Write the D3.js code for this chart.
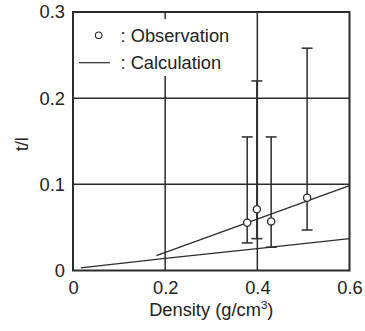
<!DOCTYPE html>
<html>
<head>
<meta charset="utf-8">
<script src="https://cdn.jsdelivr.net/npm/d3@7"></script>
<style>
  body { margin: 0; background: #fff; }
  text { font-family: "Liberation Sans", Arial, sans-serif; fill: #222; }
</style>
</head>
<body>
<div id="chart"></div>
<script>
// observed points: density, t/l, error bar low / high
var obsX = [0.378, 0.399, 0.43, 0.508];
var obsY = [0.0555, 0.071, 0.057, 0.0845];
var errLow = [0.032, 0.037, 0.027, 0.047];
var errHigh = [0.155, 0.22, 0.155, 0.258];

// calculation lines
var calcUpperX = [0.181, 0.6];
var calcUpperY = [0.0172, 0.0985];
var calcLowerX = [0.017, 0.2, 0.4, 0.6];
var calcLowerY = [0.003, 0.014, 0.0255, 0.037];

var xTicks = [0, 0.2, 0.4, 0.6];
var xTickLabels = ['0', '0.2', '0.4', '0.6'];
var yTicks = [0, 0.1, 0.2, 0.3];
var yTickLabels = ['0', '0.1', '0.2', '0.3'];

var margin = { top: 12, right: 15.5, bottom: 60.5, left: 73 },
    width = 365 - margin.left - margin.right,
    height = 331 - margin.top - margin.bottom;

var fs = "18.3px";

var svg = d3.select("#chart").append("svg")
    .attr("width", 365)
    .attr("height", 331)
    .append("g")
    .attr("transform", "translate(" + margin.left + "," + margin.top + ")");

var x = d3.scaleLinear().domain([0, 0.6]).range([0, width]);
var y = d3.scaleLinear().domain([0, 0.3]).range([height, 0]);

var ink = "#2b2b2b";

// grid
svg.selectAll(".vgrid")
    .data(xTicks.slice(1, -1))
    .enter().append("line")
    .attr("x1", d => x(d)).attr("x2", d => x(d))
    .attr("y1", 0).attr("y2", height)
    .attr("stroke", ink).attr("stroke-width", 1.5);

svg.selectAll(".hgrid")
    .data(yTicks.slice(1, -1))
    .enter().append("line")
    .attr("x1", 0).attr("x2", width)
    .attr("y1", d => y(d)).attr("y2", d => y(d))
    .attr("stroke", ink).attr("stroke-width", 1.5);

// legend background hides the grid
svg.append("rect")
    .attr("x", 1).attr("y", 7)
    .attr("width", 160).attr("height", 57)
    .attr("fill", "#fff");

// axes labels
var xAxis = d3.axisBottom(x).tickValues(xTicks)
    .tickFormat((d, i) => xTickLabels[i]).tickSize(0).tickPadding(11);
var gx = svg.append("g").attr("transform", "translate(0," + height + ")").call(xAxis);
gx.select(".domain").remove();
gx.selectAll("text").style("font-size", fs).attr("fill", "#222");

var yAxis = d3.axisLeft(y).tickValues(yTicks)
    .tickFormat((d, i) => yTickLabels[i]).tickSize(0).tickPadding(8);
var gy = svg.append("g").call(yAxis);
gy.select(".domain").remove();
gy.selectAll("text").style("font-size", fs).attr("fill", "#222");

// frame
svg.append("rect")
    .attr("width", width).attr("height", height)
    .attr("fill", "none").attr("stroke", ink).attr("stroke-width", 2);

// calc lines
var line = d3.line().x(d => x(d[0])).y(d => y(d[1]));
svg.append("path")
    .attr("d", line(d3.zip(calcUpperX, calcUpperY)))
    .attr("fill", "none").attr("stroke", ink).attr("stroke-width", 1.3);
svg.append("path")
    .attr("d", line(d3.zip(calcLowerX, calcLowerY)))
    .attr("fill", "none").attr("stroke", ink).attr("stroke-width", 1.3);

// error bars
var obs = obsX.map((d, i) => ({ x: d, y: obsY[i], lo: errLow[i], hi: errHigh[i] }));
var capW = 5.5;
var eb = svg.selectAll(".err").data(obs).enter().append("g");
eb.append("line")
    .attr("x1", d => x(d.x)).attr("x2", d => x(d.x))
    .attr("y1", d => y(d.lo)).attr("y2", d => y(d.hi))
    .attr("stroke", ink).attr("stroke-width", 1.5);
eb.append("line")
    .attr("x1", d => x(d.x) - capW).attr("x2", d => x(d.x) + capW)
    .attr("y1", d => y(d.hi)).attr("y2", d => y(d.hi))
    .attr("stroke", ink).attr("stroke-width", 1.5);
eb.append("line")
    .attr("x1", d => x(d.x) - capW).attr("x2", d => x(d.x) + capW)
    .attr("y1", d => y(d.lo)).attr("y2", d => y(d.lo))
    .attr("stroke", ink).attr("stroke-width", 1.5);

svg.selectAll(".pt").data(obs).enter().append("circle")
    .attr("cx", d => x(d.x)).attr("cy", d => y(d.y)).attr("r", 3.6)
    .attr("fill", "#fff").attr("stroke", ink).attr("stroke-width", 1.3);

// legend
svg.append("circle").attr("cx", 25.7).attr("cy", 23.3).attr("r", 3.3)
    .attr("fill", "#fff").attr("stroke", ink).attr("stroke-width", 1.1);
svg.append("text").attr("x", 47.5).attr("y", 29.8)
    .style("font-size", fs).text(": Observation");
svg.append("line").attr("x1", 6).attr("x2", 37).attr("y1", 50.7).attr("y2", 50.7)
    .attr("stroke", ink).attr("stroke-width", 1.2);
svg.append("text").attr("x", 47.5).attr("y", 56.8)
    .style("font-size", fs).text(": Calculation");

// titles
var xt = svg.append("text")
    .attr("x", width / 2).attr("y", height + 45)
    .attr("text-anchor", "middle")
    .style("font-size", fs);
xt.append("tspan").text("Density (g/cm");
xt.append("tspan").attr("dy", -7).style("font-size", "11.5px").text("3");
xt.append("tspan").attr("dy", 7).text(")");

svg.append("text")
    .attr("transform", "translate(" + (-45) + "," + (height / 2 + 3) + ") rotate(-90)")
    .attr("text-anchor", "middle")
    .style("font-size", fs)
    .text("t/l");
</script>
</body>
</html>
